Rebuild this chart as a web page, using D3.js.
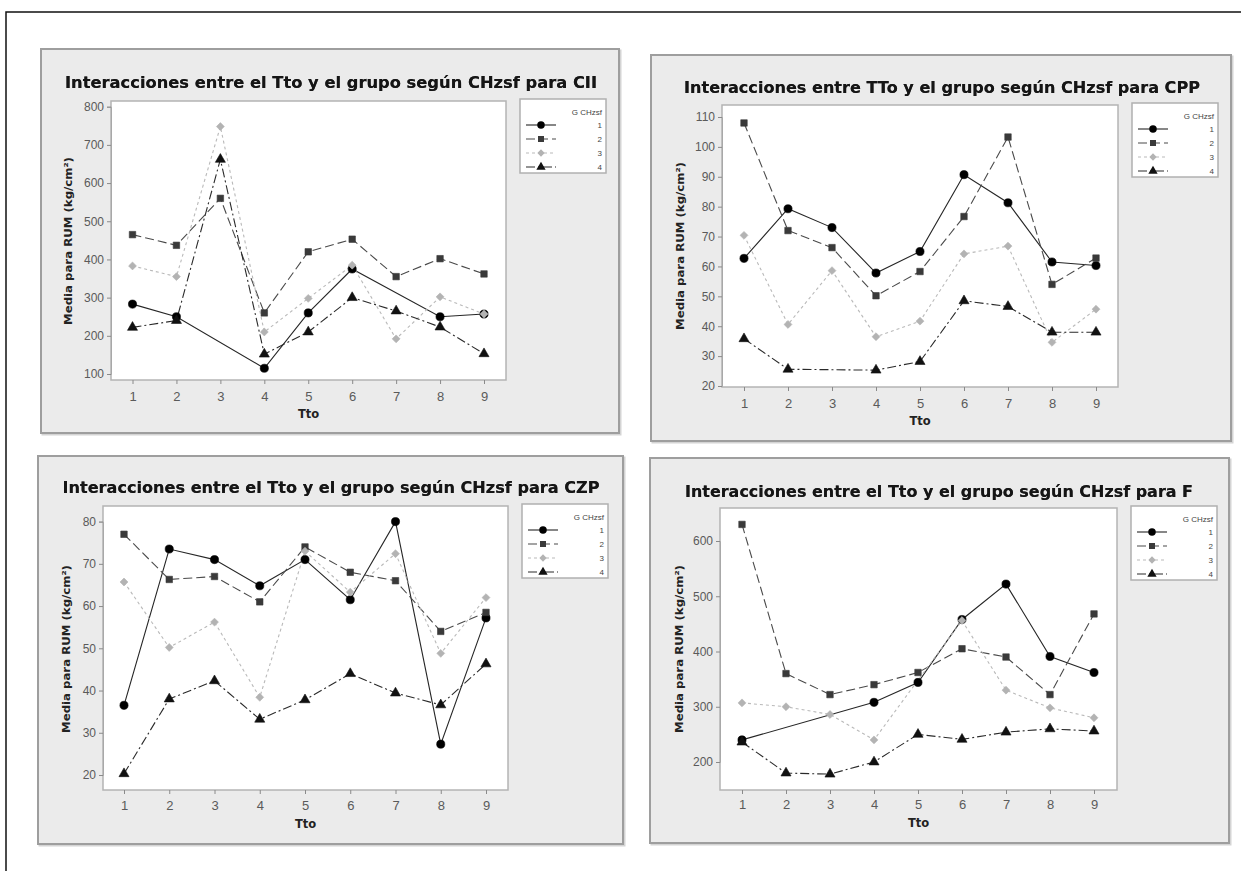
<!DOCTYPE html>
<html><head><meta charset="utf-8">
<script src="https://cdn.jsdelivr.net/npm/d3@7"></script>
<style>body{margin:0;background:#fff;overflow:hidden}</style>
</head><body>
<svg id="c" width="1241" height="871"></svg>
<script>
// ---------- data ----------
const tto = [1, 2, 3, 4, 5, 6, 7, 8, 9];
const groups = ["1", "2", "3", "4"];
const legendTitle = "G CHzsf";
const xTitle = "Tto";
const yTitle = "Media para RUM (kg/cm²)";

const titleCII = "Interacciones entre el Tto y el grupo según CHzsf para CII";
const titleCPP = "Interacciones entre TTo y el grupo según CHzsf para CPP";
const titleCZP = "Interacciones entre el Tto y el grupo según CHzsf para CZP";
const titleF   = "Interacciones entre el Tto y el grupo según CHzsf para F";

const cii1 = [283, 250, null, 115, 260, 375, null, 250, 257];
const cii2 = [465, 437, 560, 260, 420, 453, 355, 402, 362];
const cii3 = [383, 355, 748, 210, 298, 385, 192, 302, 257];
const cii4 = [222, 240, 662, 152, 210, 300, 265, 223, 153];
const ciiTicks = [100, 200, 300, 400, 500, 600, 700, 800];

const cpp1 = [62.7, 79.3, 73, 57.8, 65, 90.7, 81.3, 61.5, 60.3];
const cpp2 = [108, 72, 66.3, 50.2, 58.3, 76.7, 103.3, 54, 62.8];
const cpp3 = [70.4, 40.6, 58.6, 36.5, 41.7, 64.2, 66.8, 34.6, 45.7];
const cpp4 = [35.8, 25.6, null, 25.3, 28.2, 48.5, 46.6, 38, 38];
const cppTicks = [20, 30, 40, 50, 60, 70, 80, 90, 100, 110];

const czp1 = [36.5, 73.5, 71, 64.8, 71, 61.5, 80, 27.3, 57.2];
const czp2 = [77, 66.3, 67, 61, 74, 68, 66, 54, 58.5];
const czp3 = [65.7, 50.2, 56.2, 38.4, 73, 63.3, 72.4, 48.8, 62];
const czp4 = [20.3, 38, 42.3, 33.2, 37.8, 44, 39.4, 36.6, 46.3];
const czpTicks = [20, 30, 40, 50, 60, 70, 80];

const f1 = [240, null, null, 308, 344, 458, 522, 391, 362];
const f2 = [630, 360, 322, 340, 362, 405, 390, 322, 468];
const f3 = [307, 300, 286, 240, null, 456, 330, 298, 280];
const f4 = [236, 180, 178, 200, 250, 241, 254, 260, 256];
const fTicks = [200, 300, 400, 500, 600];

// ---------- layout / style ----------
const panels = [
  {title: titleCII, series: [cii1, cii2, cii3, cii4], ticks: ciiTicks,
   box: [41, 49, 619, 433], plot: [111, 101, 506, 380], xr: [132.5, 484],
   yd: [100, 800], yr: [374, 106.7], ty: 83, tx: 331, tl: 532, ytx: 68, yty: 241,
   tickY: 401, xtY: 418},
  {title: titleCPP, series: [cpp1, cpp2, cpp3, cpp4], ticks: cppTicks,
   box: [651, 55, 1231, 441], plot: [722, 105, 1118, 387], xr: [744, 1096],
   yd: [20, 110], yr: [386, 117], ty: 88, tx: 942, tl: 516, ytx: 680, yty: 246,
   tickY: 408, xtY: 425},
  {title: titleCZP, series: [czp1, czp2, czp3, czp4], ticks: czpTicks,
   box: [38, 456, 623, 844], plot: [103, 506, 508, 790], xr: [124, 486],
   yd: [20, 80], yr: [775, 521.6], ty: 488, tx: 331, tl: 537, ytx: 66, yty: 649,
   tickY: 810, xtY: 828},
  {title: titleF, series: [f1, f2, f3, f4], ticks: fTicks,
   box: [650, 458, 1229, 843], plot: [720, 508, 1117, 790], xr: [742, 1094],
   yd: [200, 600], yr: [762, 541], ty: 492, tx: 939, tl: 508, ytx: 679, yty: 649,
   tickY: 809, xtY: 827}
];

const styles = [
  {stroke: "#262626", dash: null,       fill: "#000000", shape: d3.symbolCircle,   size: 52},
  {stroke: "#4a4a4a", dash: "9,4",      fill: "#3a3a3a", shape: d3.symbolSquare,   size: 42},
  {stroke: "#b9b9b9", dash: "3,3",      fill: "#b3b3b3", shape: d3.symbolDiamond2, size: 40},
  {stroke: "#2a2a2a", dash: "9,3,2,3",  fill: "#111111", shape: d3.symbolTriangle, size: 44}
];

const svg = d3.select("#c");
// outer frame
svg.append("rect").attr("x", 6).attr("y", 12).attr("width", 1260).attr("height", 880)
  .attr("fill", "none").attr("stroke", "#111").attr("stroke-width", 1.5);

panels.forEach(p => {
  const g = svg.append("g");
  const [bx0, by0, bx1, by1] = p.box;
  g.append("rect").attr("x", bx0 + 1.5).attr("y", by0 + 1.5).attr("width", bx1 - bx0).attr("height", by1 - by0)
    .attr("fill", "none").attr("stroke", "#d4d4d4").attr("stroke-width", 2);
  g.append("rect").attr("x", bx0).attr("y", by0).attr("width", bx1 - bx0).attr("height", by1 - by0)
    .attr("fill", "#ebebeb").attr("stroke", "#9e9e9e").attr("stroke-width", 2);

  const [px0, py0, px1, py1] = p.plot;
  g.append("rect").attr("x", px0).attr("y", py0).attr("width", px1 - px0).attr("height", py1 - py0)
    .attr("fill", "#fff").attr("stroke", "#b4b4b4").attr("stroke-width", 1.5);

  const x = d3.scalePoint().domain(tto).range(p.xr);
  const y = d3.scaleLinear().domain(p.yd).range(p.yr);

  // title
  g.append("text").attr("x", p.tx).attr("y", p.ty + 5).attr("text-anchor", "middle")
    .attr("font-family", "DejaVu Sans").attr("font-weight", "bold").attr("font-size", 15)
    .attr("fill", "#151515").attr("textLength", p.tl).attr("lengthAdjust", "spacingAndGlyphs")
    .style("filter", "drop-shadow(0 0 0.6px #444)")
    .text(p.title);

  // y axis
  const ya = g.append("g").attr("transform", `translate(${px0},0)`)
    .call(d3.axisLeft(y).tickValues(p.ticks).tickSize(4).tickPadding(3).tickFormat(d3.format("d")));
  ya.select(".domain").attr("stroke", "#a8a8a8");
  ya.selectAll(".tick line").attr("stroke", "#8a8a8a");
  ya.selectAll(".tick text").attr("font-family", "Liberation Sans").attr("font-size", 12).attr("fill", "#5a5a5a");

  // x axis
  const xa = g.append("g").attr("transform", `translate(0,${py1})`)
    .call(d3.axisBottom(x).tickSize(4).tickPadding(3).tickFormat(d3.format("d")));
  xa.select(".domain").remove();
  xa.selectAll(".tick line").attr("stroke", "#8a8a8a");
  xa.selectAll(".tick text").attr("font-family", "Liberation Sans").attr("font-size", 13).attr("fill", "#5a5a5a")
    .attr("dy", null).attr("y", p.tickY - py1);

  // axis titles
  g.append("text").attr("x", (px0 + px1) / 2).attr("y", p.xtY).attr("text-anchor", "middle")
    .attr("font-family", "DejaVu Sans").attr("font-weight", "bold").attr("font-size", 11.5)
    .attr("fill", "#222").text(xTitle);
  g.append("text").attr("transform", `translate(${p.ytx + 4},${p.yty}) rotate(-90)`).attr("text-anchor", "middle")
    .attr("font-family", "DejaVu Sans").attr("font-weight", "bold").attr("font-size", 11)
    .attr("fill", "#222").attr("textLength", 168).attr("lengthAdjust", "spacingAndGlyphs").text(yTitle);

  // series lines
  const line = d3.line().x(d => x(d.t)).y(d => y(d.v));
  p.series.forEach((vals, i) => {
    const pts = tto.map((t, k) => ({t, v: vals[k]})).filter(d => d.v !== null);
    const st = styles[i];
    g.append("path").attr("d", line(pts)).attr("fill", "none").attr("stroke", st.stroke)
      .attr("stroke-width", 1.1).attr("stroke-dasharray", st.dash);
  });
  p.series.forEach((vals, i) => {
    const pts = tto.map((t, k) => ({t, v: vals[k]})).filter(d => d.v !== null);
    const st = styles[i];
    g.selectAll(null).data(pts).enter().append("path")
      .attr("d", d3.symbol().type(st.shape).size(st.size))
      .attr("transform", d => `translate(${x(d.t)},${y(d.v)})`)
      .attr("fill", st.fill).attr("stroke", st.fill).attr("stroke-width", 0.6);
  });

  // legend
  const lx = px1 + 14, ly = py0 - 2;
  const lg = g.append("g").attr("transform", `translate(${lx},${ly})`);
  lg.append("rect").attr("width", 86).attr("height", 74).attr("fill", "#fff")
    .attr("stroke", "#b0b0b0").attr("stroke-width", 1.5);
  lg.append("text").attr("x", 82).attr("y", 16).attr("text-anchor", "end")
    .attr("font-family", "Liberation Sans").attr("font-size", 8).attr("fill", "#444").text(legendTitle);
  groups.forEach((gname, i) => {
    const st = styles[i];
    const yy = 26 + i * 14;
    lg.append("line").attr("x1", 6).attr("x2", 36).attr("y1", yy).attr("y2", yy)
      .attr("stroke", st.stroke).attr("stroke-width", 1.1).attr("stroke-dasharray", st.dash);
    lg.append("path").attr("d", d3.symbol().type(st.shape).size(st.size * 0.85))
      .attr("transform", `translate(21,${yy})`).attr("fill", st.fill);
    lg.append("text").attr("x", 82).attr("y", yy + 3).attr("text-anchor", "end")
      .attr("font-family", "Liberation Sans").attr("font-size", 8).attr("fill", "#444").text(gname);
  });
});
</script>
</body></html>
